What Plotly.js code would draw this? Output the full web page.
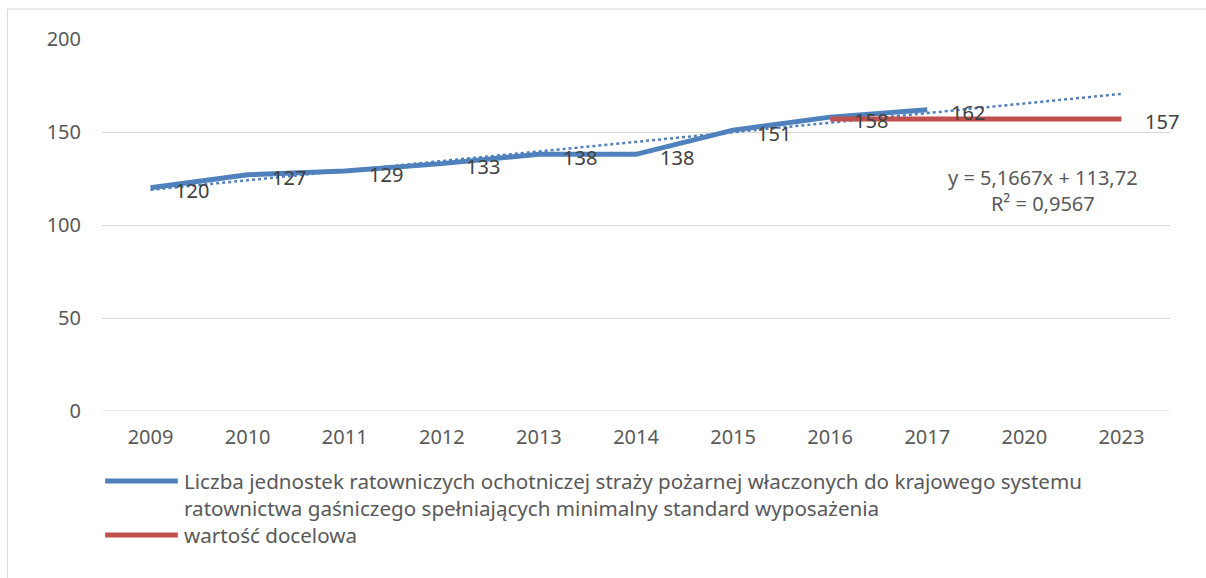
<!DOCTYPE html>
<html>
<head>
<meta charset="utf-8">
<script src="https://cdn.plot.ly/plotly-3.0.1.min.js"></script>
<style>html,body{margin:0;padding:0;background:#fff;}#chart{width:1206px;height:578px;}</style>
</head>
<body>
<div id="chart"></div>
<script>
const categories = ['2009','2010','2011','2012','2013','2014','2015','2016','2017','2020','2023'];
const unitsYears = ['2009','2010','2011','2012','2013','2014','2015','2016','2017'];
const unitsValues = [120,127,129,133,138,138,151,158,162];
const targetYears = ['2016','2017','2020','2023'];
const targetValues = [157,157,157,157];
const targetLabels = ['','','','157'];
const trendYears = ['2009','2023'];
const trendValues = [118.9,170.5];
const yTicks = [0,50,100,150,200];
const legendLines = [
  'Liczba jednostek ratowniczych ochotniczej straży pożarnej właczonych do krajowego systemu',
  'ratownictwa gaśniczego spełniających minimalny standard wyposażenia',
  'wartość docelowa'
];
const equationText = 'y = 5,1667x + 113,72<br>R² = 0,9567';

const FONT = '"Noto Sans", "Open Sans", sans-serif';
const FS = 20;
const LFS = 20.6;
const BLUE = '#4F81BD', RED = '#C0504D', GREY = '#595959', LBL = '#404040';

const traces = [
  {x: trendYears, y: trendValues, type: 'scatter', mode: 'lines',
   line: {color: BLUE, width: 2.5, dash: 'dot'}, hoverinfo: 'skip', showlegend: false},
  {x: unitsYears, y: unitsValues, type: 'scatter', mode: 'lines',
   line: {color: BLUE, width: 5}, showlegend: false},
  {x: targetYears, y: targetValues, type: 'scatter', mode: 'lines',
   line: {color: RED, width: 5}, showlegend: false}
];

const labelAnn = (yr, y, t) => ({x: categories.indexOf(yr), y: y, xref: 'x', yref: 'y', text: String(t), showarrow: false,
  xanchor: 'left', yanchor: 'middle', xshift: 22, yshift: -3,
  font: {family: FONT, size: FS, color: LBL}});

const annotations = [];
unitsYears.forEach((yr, i) => annotations.push(labelAnn(yr, unitsValues[i], unitsValues[i])));
targetYears.forEach((yr, i) => { if (targetLabels[i]) annotations.push(labelAnn(yr, targetValues[i], targetLabels[i])); });

const legendY = [-0.188, -0.261, -0.333];
legendLines.forEach((t, i) => annotations.push({xref: 'paper', yref: 'paper', x: 0.0749, y: legendY[i],
  xanchor: 'left', yanchor: 'middle', text: t, showarrow: false, font: {family: FONT, size: LFS, color: GREY}}));

annotations.push({xref: 'paper', yref: 'paper', x: 0.881, y: 0.594, xanchor: 'center', yanchor: 'middle',
  text: equationText, showarrow: false, align: 'center', font: {family: FONT, size: FS, color: GREY}});

const layout = {
  width: 1206, height: 578,
  margin: {l: 102, r: 36, t: 39, b: 167},
  paper_bgcolor: '#fff', plot_bgcolor: '#fff',
  font: {family: FONT, size: FS, color: GREY},
  showlegend: false,
  xaxis: {type: 'category', categoryorder: 'array', categoryarray: categories,
    range: [-0.5, 10.5], showgrid: false, zeroline: false, showline: false,
    ticks: '', tickfont: {family: FONT, size: FS, color: GREY}, ticklabelstandoff: 12},
  yaxis: {range: [0, 200], tickvals: yTicks, showgrid: true, gridcolor: '#D9D9D9', gridwidth: 1,
    zeroline: false, showline: false, ticks: '', tickfont: {family: FONT, size: FS, color: GREY},
    ticklabelstandoff: 20},
  shapes: [
    {type: 'line', xref: 'paper', yref: 'y', x0: 0, x1: 1, y0: 0, y1: 0, line: {color: '#D9D9D9', width: 1}, layer: 'below'},
    {type: 'rect', xref: 'paper', yref: 'paper', x0: -0.0885, x1: 1.1, y0: -0.5, y1: 1.0806,
     line: {color: '#D9D9D9', width: 1}, fillcolor: 'rgba(0,0,0,0)'},
    {type: 'line', xref: 'paper', yref: 'paper', x0: 0.003, x1: 0.071, y0: -0.188, y1: -0.188,
     line: {color: BLUE, width: 5}},
    {type: 'line', xref: 'paper', yref: 'paper', x0: 0.003, x1: 0.071, y0: -0.333, y1: -0.333,
     line: {color: RED, width: 5}}
  ],
  annotations: annotations
};

Plotly.newPlot('chart', traces, layout, {staticPlot: true, displayModeBar: false});
</script>
</body>
</html>
